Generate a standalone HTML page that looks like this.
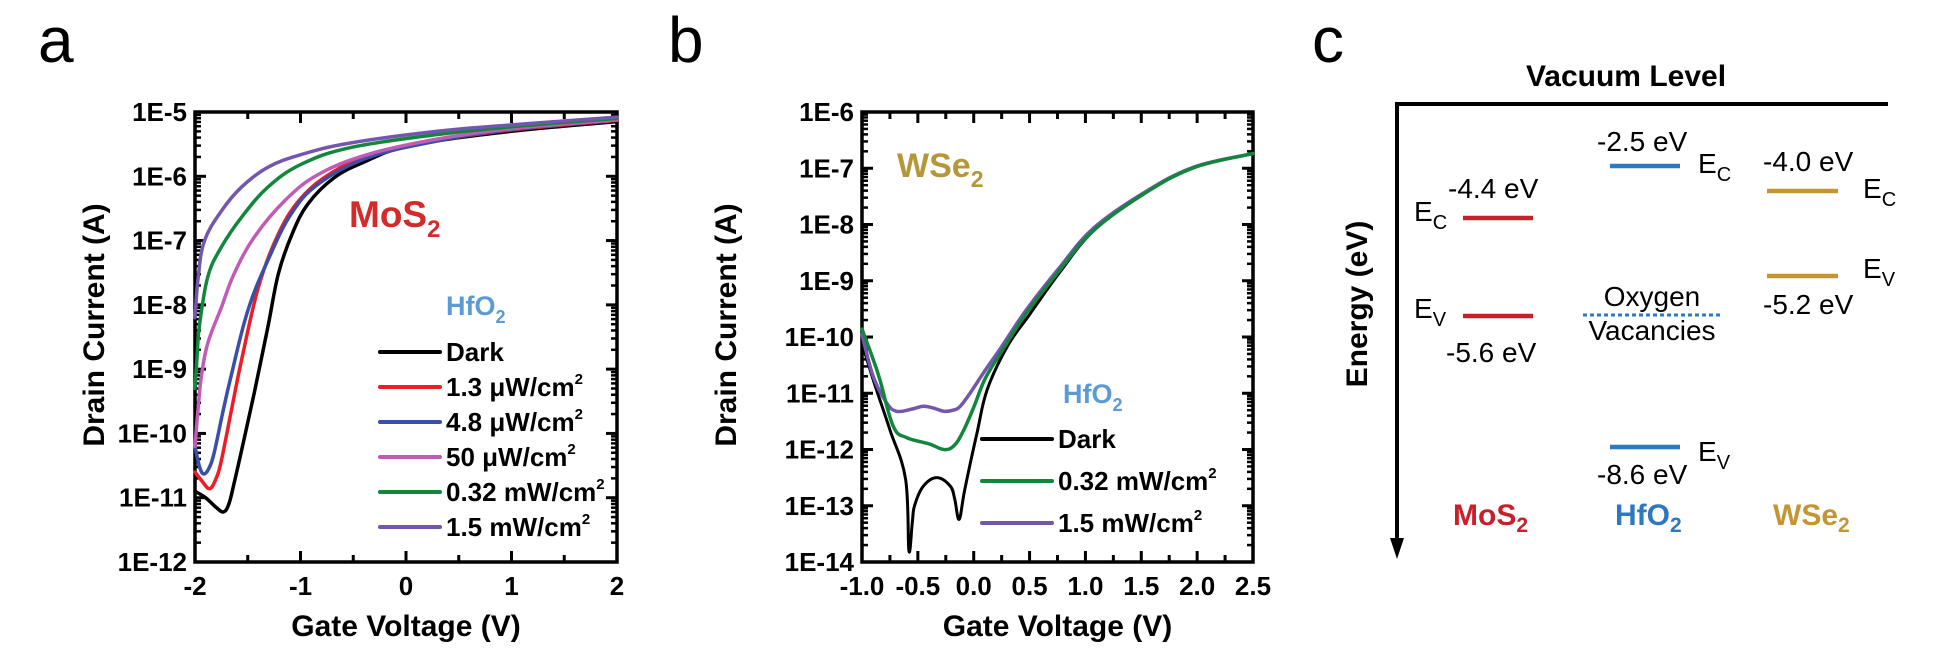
<!DOCTYPE html>
<html><head><meta charset="utf-8"><style>
html,body{margin:0;padding:0;background:#fff;}
svg{display:block;font-family:"Liberation Sans",Arial,sans-serif;}
.tk{font-weight:bold;font-size:26px;}
.ttl{font-weight:bold;font-size:30px;}
.leg{font-weight:bold;font-size:26px;}
.en{font-size:28px;}
</style></head><body>
<svg id="fig" width="1950" height="652" viewBox="0 0 1950 652" xmlns="http://www.w3.org/2000/svg">
<text x="38" y="62" font-size="64">a</text>
<text x="668" y="62" font-size="64">b</text>
<text x="1312" y="62" font-size="64">c</text>
<g id="pa"></g>
<g id="pb"></g>
<g id="pc">
 <text x="1626" y="86" text-anchor="middle" class="ttl">Vacuum Level</text>
 <line x1="1397" y1="104" x2="1888" y2="104" stroke="#000" stroke-width="4"/>
 <line x1="1397" y1="102" x2="1397" y2="542" stroke="#000" stroke-width="4"/>
 <polygon points="1390,538 1404,538 1397,559" fill="#000"/>
 <text transform="translate(1367,304) rotate(-90)" text-anchor="middle" class="ttl">Energy (eV)</text>
 <g transform="translate(0,6)">
 <line x1="1463" y1="212" x2="1533" y2="212" stroke="#c8202a" stroke-width="4.5"/>
 <line x1="1463" y1="310" x2="1533" y2="310" stroke="#c8202a" stroke-width="4.5"/>
 <text x="1448" y="192" class="en">-4.4 eV</text>
 <text x="1446" y="356" class="en">-5.6 eV</text>
 <text x="1414" y="215" class="en">E<tspan font-size="20" dy="8">C</tspan></text>
 <text x="1414" y="312" class="en">E<tspan font-size="20" dy="8">V</tspan></text>
 <line x1="1610" y1="160" x2="1680" y2="160" stroke="#2e78c0" stroke-width="4.5"/>
 <line x1="1610" y1="441" x2="1680" y2="441" stroke="#2e78c0" stroke-width="4.5"/>
 <text x="1597" y="145" class="en">-2.5 eV</text>
 <text x="1597" y="478" class="en">-8.6 eV</text>
 <text x="1698" y="167" class="en">E<tspan font-size="20" dy="8">C</tspan></text>
 <text x="1698" y="455" class="en">E<tspan font-size="20" dy="8">V</tspan></text>
 <text x="1652" y="300" text-anchor="middle" class="en">Oxygen</text>
 <line x1="1583" y1="309" x2="1720" y2="309" stroke="#2e78c0" stroke-width="3" stroke-dasharray="4,3"/>
 <text x="1652" y="334" text-anchor="middle" class="en">Vacancies</text>
 <line x1="1767" y1="185" x2="1838" y2="185" stroke="#c49530" stroke-width="4.5"/>
 <line x1="1767" y1="270" x2="1838" y2="270" stroke="#c49530" stroke-width="4.5"/>
 <text x="1763" y="165" class="en">-4.0 eV</text>
 <text x="1763" y="308" class="en">-5.2 eV</text>
 <text x="1863" y="192" class="en">E<tspan font-size="20" dy="8">C</tspan></text>
 <text x="1863" y="272" class="en">E<tspan font-size="20" dy="8">V</tspan></text>
 <text x="1453" y="519" class="ttl" fill="#c8202a">MoS<tspan font-size="21" dy="7">2</tspan></text>
 <text x="1615" y="519" class="ttl" fill="#2e78c0">HfO<tspan font-size="21" dy="7">2</tspan></text>
 <text x="1773" y="519" class="ttl" fill="#c49530">WSe<tspan font-size="21" dy="7">2</tspan></text>
 </g>
</g>
</svg>
<script>
// ---- Panel a data: gate voltage (V) and log10 drain current (A)
const aDarkV=[-2,-1.9,-1.8,-1.73,-1.68,-1.63,-1.55,-1.44,-1.31,-1.21,-1.08,-0.93,-0.68,-0.4,-0.04,0.5,1,1.5,2];
const aDarkL=[-10.9,-11.0,-11.15,-11.22,-11.1,-10.78,-10.2,-9.38,-8.35,-7.52,-6.9,-6.43,-6.02,-5.78,-5.55,-5.4,-5.3,-5.22,-5.15];
const aRedV=[-2,-1.93,-1.86,-1.8,-1.75,-1.65,-1.56,-1.4,-1.21,-0.99,-0.68,-0.3,0.2,1,2];
const aRedL=[-10.6,-10.75,-10.86,-10.7,-10.42,-9.6,-8.87,-7.73,-6.9,-6.33,-5.92,-5.65,-5.47,-5.28,-5.13];
const aBlueV=[-2,-1.96,-1.92,-1.87,-1.82,-1.74,-1.66,-1.5,-1.31,-1.09,-0.83,-0.36,0.3,1,2];
const aBlueL=[-10.2,-10.5,-10.63,-10.55,-10.31,-9.7,-9.12,-8.09,-7.31,-6.59,-6.12,-5.71,-5.45,-5.27,-5.12];
const aMagV=[-2,-1.97,-1.94,-1.88,-1.75,-1.63,-1.44,-1.15,-0.83,-0.36,0.3,1,2];
const aMagL=[-10.2,-9.6,-9.12,-8.6,-8.04,-7.52,-6.95,-6.38,-5.97,-5.66,-5.42,-5.26,-5.12];
const aGreenV=[-2,-1.98,-1.96,-1.88,-1.75,-1.56,-1.31,-0.99,-0.52,0.3,1,2];
const aGreenL=[-9.3,-8.8,-8.35,-7.57,-7.1,-6.64,-6.17,-5.81,-5.55,-5.35,-5.23,-5.1];
const aPurpV=[-2,-1.97,-1.91,-1.75,-1.56,-1.31,-0.99,-0.52,0.3,1,2];
const aPurpL=[-8.2,-7.57,-7.0,-6.54,-6.17,-5.86,-5.66,-5.48,-5.3,-5.2,-5.08];
const aLegend=["Dark","1.3 \u03bcW/cm","4.8 \u03bcW/cm","50 \u03bcW/cm","0.32 mW/cm","1.5 mW/cm"];
const aXTicks=[-2,-1,0,1,2];
const aYTicks=["1E-5","1E-6","1E-7","1E-8","1E-9","1E-10","1E-11","1E-12"];
// ---- Panel b data
const bDarkV=[-1,-0.9,-0.75,-0.61,-0.58,-0.55,-0.53,-0.45,-0.33,-0.21,-0.17,-0.13,-0.08,0.03,0.12,0.3,0.5,0.77,1.07,1.52,1.97,2.5];
const bDarkL=[-10.1,-10.76,-11.65,-12.53,-13.8,-13.3,-13.0,-12.65,-12.5,-12.65,-12.88,-13.24,-12.71,-11.7,-10.94,-10.17,-9.6,-8.85,-8.12,-7.45,-6.98,-6.74];
const bPurpV=[-1,-0.9,-0.78,-0.69,-0.55,-0.45,-0.35,-0.27,-0.18,-0.12,-0.03,0.1,0.24,0.47,0.77,1.07,1.52,1.97,2.5];
const bPurpL=[-9.95,-10.7,-11.17,-11.32,-11.28,-11.23,-11.27,-11.32,-11.3,-11.23,-10.99,-10.6,-10.2,-9.52,-8.76,-8.07,-7.44,-6.98,-6.74];
const bGreenV=[-1,-0.9,-0.84,-0.72,-0.6,-0.4,-0.27,-0.18,-0.1,0.0,0.1,0.24,0.47,0.77,1.07,1.52,1.97,2.5];
const bGreenL=[-9.86,-10.4,-10.76,-11.59,-11.79,-11.9,-12.0,-11.94,-11.7,-11.25,-10.75,-10.29,-9.58,-8.81,-8.11,-7.46,-6.99,-6.74];
const bLegend=["Dark","0.32 mW/cm","1.5 mW/cm"];
const bXTicks=["-1.0","-0.5","0.0","0.5","1.0","1.5","2.0","2.5"];
const bYTicks=["1E-6","1E-7","1E-8","1E-9","1E-10","1E-11","1E-12","1E-13","1E-14"];

const NS="http://www.w3.org/2000/svg";
function mk(parent,tag,attrs){const e=document.createElementNS(NS,tag);for(const k in attrs)e.setAttribute(k,attrs[k]);parent.appendChild(e);return e;}

function makeAxes(g,o){
  const L=o.L,R=o.R,T=o.T,B=o.B;
  const X=v=>L+(v-o.x0)/(o.x1-o.x0)*(R-L);
  const Y=l=>T+(o.y1-l)/(o.y1-o.y0)*(B-T);
  for(let d=o.y0; d<=o.y1; d++){
    const y=Y(d);
    let t=mk(g,'line',{x1:L,y1:y,x2:L+11,y2:y,stroke:'#000','stroke-width':3});
    
    
    t=mk(g,'line',{x1:R,y1:y,x2:R-11,y2:y,stroke:'#000','stroke-width':3});
    
    
    if(d<o.y1){for(let m=2;m<=9;m++){const ym=Y(d+Math.log10(m));
      t=mk(g,'line',{x1:L,y1:ym,x2:L+6,y2:ym,stroke:'#000','stroke-width':2.5});
      
      
      t=mk(g,'line',{x1:R,y1:ym,x2:R-6,y2:ym,stroke:'#000','stroke-width':2.5});
      
      }}
  }
  o.yLabels.forEach((s,i)=>{const t=mk(g,'text',{x:L-8,y:Y(o.y1-i)+9,'text-anchor':'end',class:'tk'});t.textContent=s;
    
    });
  for(let v=o.x0; v<=o.x1+1e-9; v+=o.minor){
    const major=Math.abs(Math.round((v-o.x0)/o.major)*o.major-(v-o.x0))<1e-6;
    const len=major?11:7, x=X(v);
    let t=mk(g,'line',{x1:x,y1:B,x2:x,y2:B-len,stroke:'#000','stroke-width':3});
    
    
    t=mk(g,'line',{x1:x,y1:T,x2:x,y2:T+len,stroke:'#000','stroke-width':3});
    
    
  }
  o.xLabels.forEach(s=>{const t=mk(g,'text',{x:X(parseFloat(s)),y:B+33,'text-anchor':'middle',class:'tk'});t.textContent=s;
    
    });
  const fr=mk(g,'rect',{x:L,y:T,width:R-L,height:B-T,fill:'none',stroke:'#000','stroke-width':3.5});
  
  
  let t=mk(g,'text',{x:(L+R)/2,y:B+74,'text-anchor':'middle',class:'ttl'});t.textContent='Gate Voltage (V)';
  
  
  t=mk(g,'text',{transform:`translate(${o.yTitleX},${(T+B)/2-12}) rotate(-90)`,'text-anchor':'middle',class:'ttl'});t.textContent='Drain Current (A)';
  
  
  return {X,Y};
}
function curve(g,ax,V,Lg,color,w,name){
  const P=V.map((v,i)=>[ax.X(v),ax.Y(Lg[i])]);
  let d='M'+P[0][0].toFixed(1)+','+P[0][1].toFixed(1);
  const k=0.18;
  for(let i=0;i<P.length-1;i++){
    const p0=P[Math.max(0,i-1)],p1=P[i],p2=P[i+1],p3=P[Math.min(P.length-1,i+2)];
    const c1=[p1[0]+(p2[0]-p0[0])*k,p1[1]+(p2[1]-p0[1])*k];
    const c2=[p2[0]-(p3[0]-p1[0])*k,p2[1]-(p3[1]-p1[1])*k];
    d+='C'+c1[0].toFixed(1)+','+c1[1].toFixed(1)+' '+c2[0].toFixed(1)+','+c2[1].toFixed(1)+' '+p2[0].toFixed(1)+','+p2[1].toFixed(1);
  }
  const p=mk(g,'path',{d:d,fill:'none',stroke:color,'stroke-width':w,'stroke-linejoin':'round','stroke-linecap':'round'});
  
  
}
function legend(g,x1,x2,y,label,color,name){
  const l=mk(g,'line',{x1:x1,y1:y,x2:x2,y2:y,stroke:color,'stroke-width':4,'stroke-linecap':'round'});
  
  
  const t=mk(g,'text',{x:x2+6,y:y+9,class:'leg'});t.textContent=label;
  if(label!=='Dark'){const s=mk(t,'tspan',{'font-size':15,dy:-12});s.textContent='2';}
  
  
}

// Panel a
const ga=document.getElementById('pa');
const axA=makeAxes(ga,{L:195,R:617,T:112,B:562,x0:-2,x1:2,y0:-12,y1:-5,major:1,minor:0.5,
  xLabels:aXTicks.map(String),yLabels:aYTicks,yTitleX:104});
const colsA=['#000','#ee1c24','#3a4fa8','#c05cb5','#12873b','#7356ae'];
curve(ga,axA,aDarkV,aDarkL,colsA[0],3.5,'dark-curve');
curve(ga,axA,aRedV,aRedL,colsA[1],3.5,'curve-1-3uw');
curve(ga,axA,aBlueV,aBlueL,colsA[2],3.5,'curve-4-8uw');
curve(ga,axA,aMagV,aMagL,colsA[3],3.5,'curve-50uw');
curve(ga,axA,aGreenV,aGreenL,colsA[4],3.5,'curve-0-32mw');
curve(ga,axA,aPurpV,aPurpL,colsA[5],3.5,'curve-1-5mw');
aLegend.forEach((s,i)=>legend(ga,380,440,352+i*35,s,colsA[i],'legend-entry'));
let tx=mk(ga,'text',{x:349,y:227,'font-weight':'bold','font-size':37,fill:'#d42a2a'});tx.innerHTML='MoS<tspan font-size="24" dy="10">2</tspan>';


tx=mk(ga,'text',{x:446,y:315,'font-weight':'bold','font-size':27,fill:'#5b9bd5'});tx.innerHTML='HfO<tspan font-size="18" dy="8">2</tspan>';



// Panel b
const gb=document.getElementById('pb');
const axB=makeAxes(gb,{L:862,R:1253,T:112,B:562,x0:-1,x1:2.5,y0:-14,y1:-6,major:0.5,minor:0.25,
  xLabels:bXTicks,yLabels:bYTicks,yTitleX:736});
const colsB=['#000','#12873b','#7356ae'];
curve(gb,axB,bDarkV,bDarkL,'#000',3,'dark-curve');
curve(gb,axB,bPurpV,bPurpL,'#7356ae',3.5,'curve-1-5mw');
curve(gb,axB,bGreenV,bGreenL,'#12873b',3.5,'curve-0-32mw');
bLegend.forEach((s,i)=>legend(gb,982,1052,439+i*42,s,colsB[i],'legend-entry'));
tx=mk(gb,'text',{x:897,y:177,'font-weight':'bold','font-size':34,fill:'#b5973a'});tx.innerHTML='WSe<tspan font-size="23" dy="10">2</tspan>';


tx=mk(gb,'text',{x:1063,y:403,'font-weight':'bold','font-size':27,fill:'#5b9bd5'});tx.innerHTML='HfO<tspan font-size="18" dy="8">2</tspan>';


</script>
</body></html>
